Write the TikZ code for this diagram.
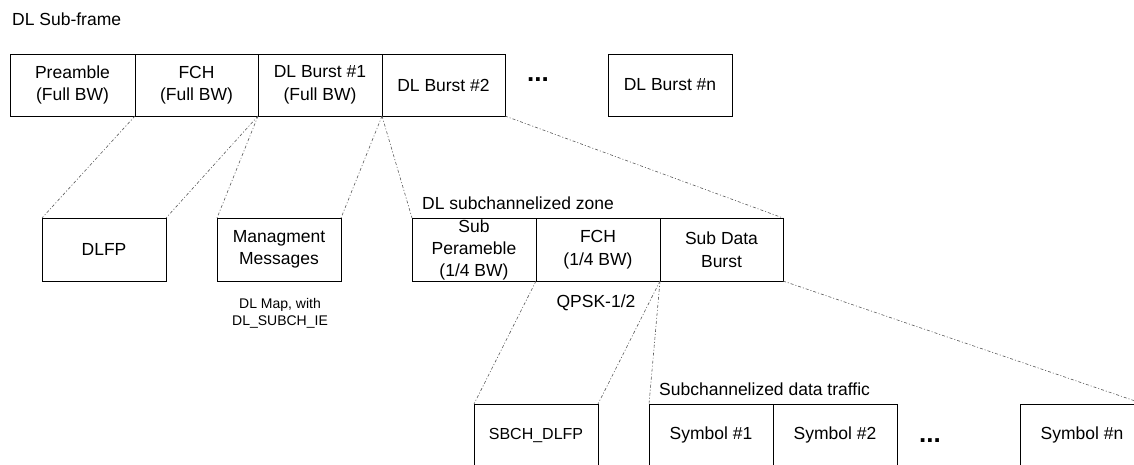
\documentclass[tikz,border=0pt]{standalone}
\usepackage{fontspec}
\setmainfont{Liberation Sans}
\begin{document}
\begin{tikzpicture}[x=1pt,y=-1pt,
  box/.style={draw=black,line width=0.8pt,outer sep=0pt,inner sep=0pt,align=center,
    font=\fontsize{17.5}{22.5}\selectfont},
  wbox/.style={box,minimum width=124pt,minimum height=62pt},
  lbl/.style={inner sep=0pt,font=\fontsize{17.5}{22}\selectfont},
  small/.style={inner sep=0pt,align=center,font=\fontsize{14}{17}\selectfont},
  dots/.style={inner sep=0pt,font=\fontsize{26}{26}\selectfont\bfseries},
  link/.style={draw=black!65,line width=0.6pt,dash pattern=on 3pt off 2pt on 1pt off 2pt}]
\useasboundingbox (0,0) rectangle (1134,465);
\clip (0,0) rectangle (1134,465);
% top row
\node[lbl,anchor=west] (title) at (12,19) {DL Sub-frame};
\node[box,minimum width=125pt,minimum height=62pt] (pre) at (72.5,85) {Preamble\\(Full BW)};
\node[box,minimum width=123pt,minimum height=62pt] (fch) at (196.5,85) {FCH\\(Full BW)};
\node[wbox] (b1) at (320,85) {DL Burst \#1\\(Full BW)};
\node[box,minimum width=123pt,minimum height=62pt] (b2) at (443.5,85) {DL Burst \#2};
\node[dots] (d1) at (538,80) {...};
\node[wbox] (bn) at (670,85) {DL Burst \#n};
% second row
\node[box,minimum width=124pt,minimum height=63pt] (dlfp) at (104,249.5) {DLFP};
\node[box,minimum width=124pt,minimum height=63pt] (mgmt) at (279,249.5) {Managment\\Messages};
\node[small] (map) at (280,313) {DL Map, with\\DL\_SUBCH\_IE};
\node[lbl,anchor=west] (zone) at (422,203) {DL subchannelized zone};
\node[box,minimum width=124pt,minimum height=63pt,font=\fontsize{17.5}{22}\selectfont] (sp) at (474,249.5) {Sub\\Perameble\\(1/4 BW)};
\node[box,minimum width=124pt,minimum height=63pt] (sfch) at (598,249.5) {FCH\\(1/4 BW)};
\node[box,minimum width=123pt,minimum height=63pt] (sdb) at (721.5,249.5) {Sub Data\\Burst};
\node[lbl] (qpsk) at (596,303) {QPSK-1/2};
% third row
\node[box,minimum width=124pt,minimum height=62pt,font=\fontsize{16}{19}\selectfont] (sbch) at (536,435) {SBCH\_DLFP};
\node[lbl,anchor=west] (traffic) at (659,389) {Subchannelized data traffic};
\node[wbox] (s1) at (711,435) {Symbol \#1};
\node[wbox] (s2) at (835,435) {Symbol \#2};
\node[dots] (d2) at (930,441) {...};
\node[wbox] (sn) at (1082,435) {Symbol \#n};
% connectors
\draw[link] (fch.south west) -- (dlfp.north west);
\draw[link] (fch.south east) -- (dlfp.north east);
\draw[link] (b1.south west) -- (mgmt.north west);
\draw[link] (b1.south east) -- (mgmt.north east);
\draw[link] (b2.south west) -- (sp.north west);
\draw[link] (b2.south east) -- (sdb.north east);
\draw[link] (sfch.south west) -- (sbch.north west);
\draw[link] (sfch.south east) -- (sbch.north east);
\draw[link] (sdb.south west) -- (s1.north west);
\draw[link] (sdb.south east) -- (sn.north east);
\end{tikzpicture}
\end{document}
